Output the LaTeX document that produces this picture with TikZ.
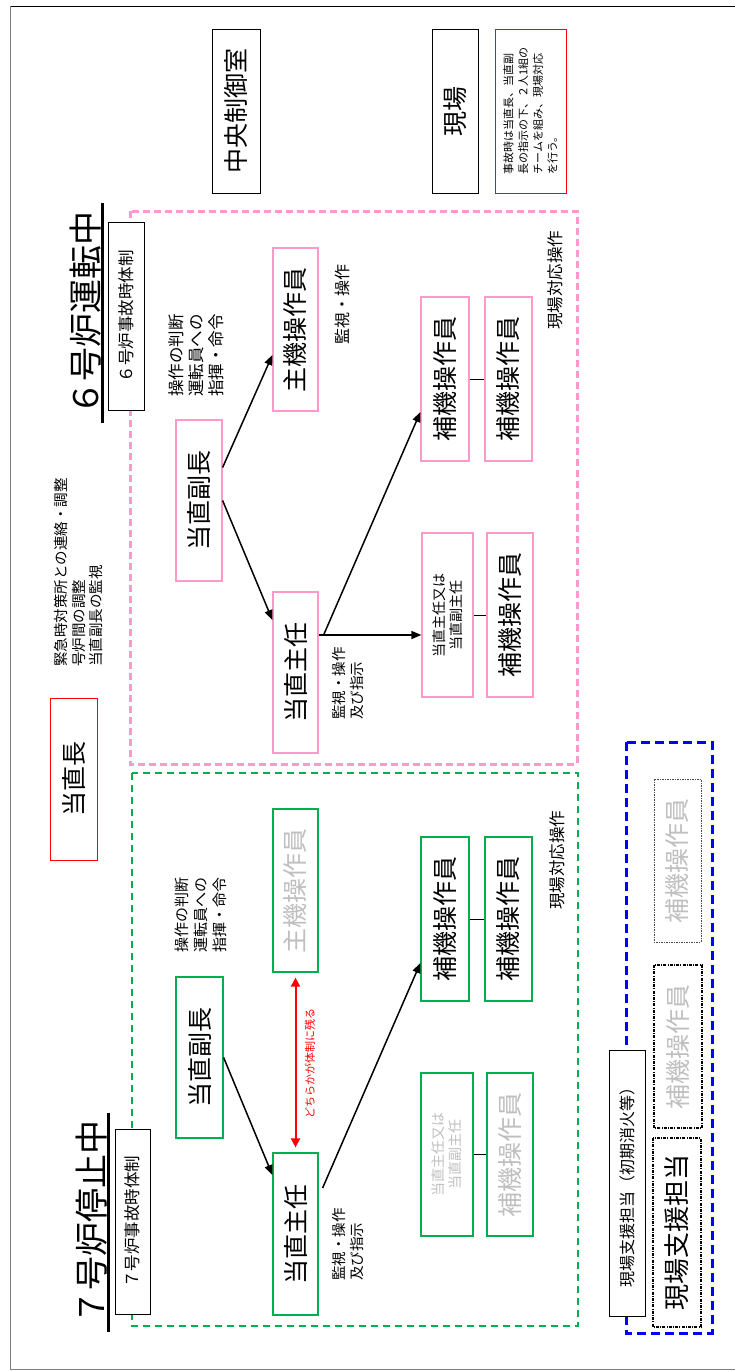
\documentclass[tikz,border=0pt]{standalone}
\usepackage{fontspec}
\setmainfont{Noto Sans CJK JP}
\usetikzlibrary{arrows.meta,calc}
\definecolor{pinkc}{HTML}{FF99CC}
\definecolor{greenc}{HTML}{00B050}
\definecolor{bluec}{HTML}{0000FF}
\definecolor{redc}{HTML}{FF0000}
\definecolor{grayt}{HTML}{BFBFBF}
\newcommand{\myfs}[2]{\fontsize{#1}{#2}\selectfont}
\begin{document}
\begin{tikzpicture}[x=1pt,y=-1pt,
  rbox/.style={draw, rotate=90, inner sep=0pt, fill=white, line width=1.2pt},
  kbox/.style={rbox, draw=black, line width=0.8pt},
  pbox/.style={rbox, draw=pinkc, minimum height=46pt, font=\myfs{25}{30}},
  gbox/.style={rbox, draw=greenc, minimum height=46pt, font=\myfs{25}{30}},
  txt/.style={rotate=90, inner sep=0pt, anchor=west, align=left},
  arr/.style={-{Triangle[length=10pt,width=8pt]}, line width=1.5pt},
  link/.style={line width=1pt},
  ttl/.style={rotate=90, inner sep=0pt, font=\myfs{34}{40}},
  uline/.style={line width=3pt},
]
\useasboundingbox (0,0) rectangle (734,1371);
% frame
\draw[black, line width=1pt] (10,6) -- (745,6);
\draw[gray, line width=1pt] (10,6) -- (10,1369) -- (745,1369);

% dashed containers
\draw[pinkc, line width=3pt, dash pattern=on 7pt off 4pt] (130,211) rectangle (577,764);
\draw[greenc, line width=2.5pt, dash pattern=on 7pt off 5pt] (132,773) rectangle (578,1326);
\draw[bluec, line width=3pt, dash pattern=on 9pt off 5pt] (626,742) rectangle (712,1333);

% titles
\node[ttl, minimum width=220pt, minimum height=33pt] (title6) at (85.5,313) {６号炉運転中};
\draw[uline] (title6.south west) -- (title6.south east);
\node[ttl, minimum width=219pt, minimum height=33pt] (title7) at (91.5,1222.5) {７号炉停止中};
\draw[uline] (title7.south west) -- (title7.south east);

\node[kbox, minimum width=188pt, minimum height=36pt, font=\myfs{16.5}{20}] (tai6) at (126,316) {６号炉事故時体制};
\node[kbox, minimum width=185pt, minimum height=35pt, font=\myfs{16.5}{20}] (tai7) at (132.5,1221.5) {７号炉事故時体制};

% row labels and note
\node[kbox, minimum width=164pt, minimum height=48pt, font=\myfs{25}{30}] (chuo) at (236,111) {中央制御室};
\node[kbox, minimum width=164pt, minimum height=46pt, font=\myfs{25}{30}] (genba) at (455,111) {現場};
\node[kbox, draw=redc, minimum width=164pt, minimum height=71pt, align=left, font=\myfs{11}{14.7}] (note) at (530.5,111) {事故時は当直長、当直副\\長の指示の下、２人1組の\\チームを組み、現場対応\\を行う。};

% shift supervisor
\node[kbox, draw=redc, minimum width=162pt, minimum height=47pt, font=\myfs{25}{30}] (cho) at (73.5,779) {当直長};
\node[txt, font=\myfs{14.5}{17.5}] (chotxt) at (78.5,667) {緊急時対策所との連絡・調整\\号炉間の調整\\当直副長の監視};

% ===== Unit 6 =====
\node[pbox, minimum width=161pt] (fuku6) at (199,500.5) {当直副長};
\node[pbox, minimum width=163pt, minimum height=45pt] (shuki6) at (295.5,329.5) {主機操作員};
\node[pbox, minimum width=161pt, minimum height=45pt] (shunin6) at (295.5,672.5) {当直主任};
\node[pbox, minimum width=164pt, minimum height=51pt, align=center, font=\myfs{14}{17}] (matawa6) at (447.5,615) {当直主任又は\\当直副主任};
\node[pbox, minimum width=164pt] (hoki6a) at (510,615) {補機操作員};
\node[pbox, minimum width=164pt, minimum height=48pt] (hoki6b) at (445,379) {補機操作員};
\node[pbox, minimum width=164pt, minimum height=47pt] (hoki6c) at (508.5,379) {補機操作員};

\node[txt, font=\myfs{16.5}{20}] (hantei6) at (196,397) {操作の判断\\運転員への\\指揮・命令};
\node[txt, font=\myfs{16}{19}] (kanshi6a) at (342.5,345) {監視・操作};
\node[txt, font=\myfs{14.5}{18}] (kanshi6b) at (348,720) {監視・操作\\及び指示};
\node[txt, font=\myfs{16.5}{19}] (taio6) at (555.5,330) {現場対応操作};

\draw[arr] ($(fuku6.south)+(0,-33)$) -- ($(shuki6.north)+(0,25.5)$);
\draw[arr] (fuku6.south) -- ($(shunin6.north)+(0,-52.5)$);
\coordinate (j6) at ($(shunin6.south)+(5,-37.5)$);
\draw[arr] ($(shunin6.south)+(0,-37.5)$) -- ($(matawa6.north)+(0,20)$);
\draw[arr] (j6) -- ($(hoki6b.north)+(0,33)$);
\draw[link] (matawa6) -- (hoki6a);
\draw[link] (hoki6b) -- (hoki6c);

% ===== Unit 7 =====
\node[gbox, minimum width=161pt, minimum height=47pt] (fuku7) at (199.5,1057.5) {当直副長};
\node[gbox, minimum width=163pt, minimum height=45pt, text=grayt] (shuki7) at (295.5,890.5) {主機操作員};
\node[gbox, minimum width=162pt, minimum height=45pt] (shunin7) at (295.5,1234) {当直主任};
\node[gbox, minimum width=163pt, minimum height=52pt, align=center, font=\myfs{14}{17}, text=grayt] (matawa7) at (447,1154.5) {当直主任又は\\当直副主任};
\node[gbox, minimum width=163pt, text=grayt] (hoki7a) at (510,1154.5) {補機操作員};
\node[gbox, minimum width=164pt, minimum height=48pt] (hoki7b) at (445,919) {補機操作員};
\node[gbox, minimum width=164pt, minimum height=47pt] (hoki7c) at (508.5,919) {補機操作員};

\node[txt, font=\myfs{15}{19}] (hantei7) at (201,953) {操作の判断\\運転員への\\指揮・命令};
\node[txt, font=\myfs{14.5}{18}] (kanshi7) at (348,1281) {監視・操作\\及び指示};
\node[txt, font=\myfs{16.5}{19}] (taio7) at (557,910) {現場対応操作};

\draw[arr] (fuku7.south) -- ($(shunin7.north)+(0,-59)$);
\coordinate (j7) at ($(shunin7.south)+(4,-46)$);
\draw[arr] (j7) -- ($(hoki7b.north)+(0,44)$);
\draw[link] (matawa7) -- (hoki7a);
\draw[link] (hoki7b) -- (hoki7c);

\draw[redc, line width=2pt, {Triangle[length=9pt,width=9pt]}-{Triangle[length=9pt,width=9pt]}, shorten <=5pt, shorten >=5pt] (shuki7) -- (shunin7);
\node[rotate=90, inner sep=0pt, text=redc, font=\myfs{11}{13}] (nokoru) at (310,1063) {どちらかが体制に残る};

% ===== support team =====
\node[kbox, minimum width=266pt, minimum height=36pt, font=\myfs{16}{20}] (shientitle) at (627,1183) {現場支援担当（初期消火等）};
\node[rbox, draw=black, line width=1.5pt, dash pattern=on 3pt off 1.2pt on 1pt off 1.2pt, minimum width=189pt, minimum height=48pt, font=\myfs{26}{30}] (shien) at (677,1232.5) {現場支援担当};
\node[rbox, draw=black, line width=1.5pt, dash pattern=on 3pt off 1.2pt on 1pt off 1.2pt, minimum width=163pt, minimum height=48pt, font=\myfs{25}{30}, text=grayt] (hokis1) at (678,1046.5) {補機操作員};
\node[rbox, draw=black!70, line width=1pt, dash pattern=on 2pt off 1pt on 1pt off 1pt, minimum width=163pt, minimum height=47pt, font=\myfs{25}{30}, text=grayt] (hokis2) at (677.5,860.5) {補機操作員};
\end{tikzpicture}
\end{document}
